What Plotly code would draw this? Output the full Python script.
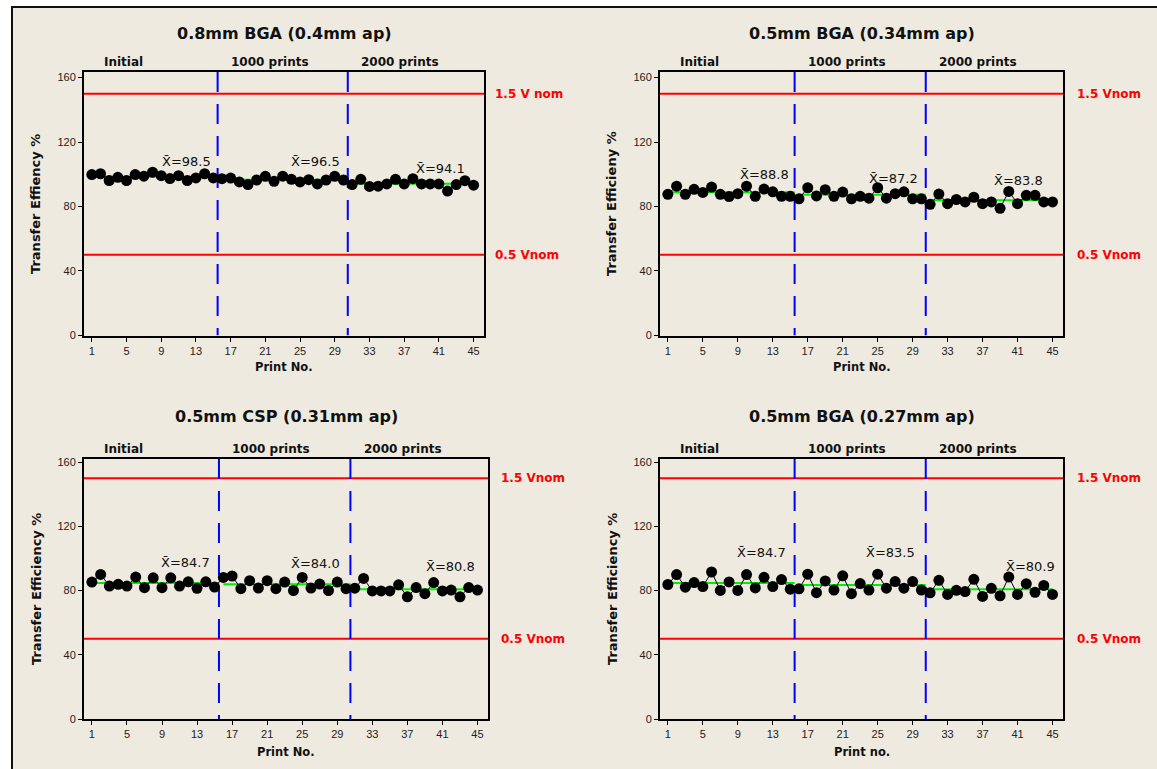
import plotly.graph_objects as go

# ---------------- data ----------------
PRINT_NO = list(range(1, 46))

TE_08BGA_04 = [99.8, 100.3, 96.1, 98.1, 96.1, 99.8, 98.8, 101.3, 99.1, 97.3, 99.1, 96.1, 97.7, 100.3, 97.7,
               97.2, 97.6, 95.2, 93.6, 96.4, 98.7, 95.6, 98.8, 96.8, 95.2, 96.6, 94.0, 96.4, 98.7, 96.4,
               93.6, 96.8, 92.4, 92.6, 94.0, 96.8, 94.0, 97.2, 94.0, 94.0, 94.0, 89.5, 93.6, 96.0, 93.2]
TE_05BGA_034 = [87.5, 92.6, 87.5, 90.6, 88.7, 92.0, 87.5, 86.1, 87.9, 92.6, 86.3, 90.8, 89.1, 86.3, 86.3,
                84.7, 91.6, 86.5, 90.4, 86.3, 88.9, 84.7, 86.3, 85.1, 91.6, 85.1, 87.9, 89.1, 84.7, 84.7,
                81.3, 87.7, 81.7, 84.3, 82.8, 85.7, 81.7, 82.8, 78.8, 89.3, 81.7, 86.9, 86.9, 82.8, 82.8]
TE_05CSP_031 = [85.3, 90.1, 82.8, 83.9, 82.8, 88.4, 81.8, 88.0, 81.8, 88.0, 82.8, 85.5, 81.4, 85.5, 82.2,
                88.2, 89.1, 81.2, 86.2, 81.6, 86.2, 81.2, 85.3, 80.0, 88.2, 81.6, 84.1, 80.0, 85.3, 81.2,
                81.5, 87.6, 79.8, 79.8, 79.8, 83.6, 76.1, 81.9, 78.1, 85.0, 79.8, 80.3, 76.1, 81.9, 80.3]
TE_05BGA_027 = [83.8, 90.0, 82.1, 85.0, 82.5, 91.6, 80.1, 85.4, 80.1, 90.0, 81.7, 88.3, 82.5, 86.9, 80.9,
                81.1, 90.2, 78.7, 86.0, 80.3, 89.2, 78.1, 84.4, 80.3, 90.2, 81.5, 85.6, 81.5, 85.6, 80.3,
                78.6, 86.4, 77.6, 80.2, 79.4, 87.0, 76.4, 81.4, 76.8, 88.4, 77.6, 84.3, 78.9, 83.2, 77.6]

MEANS_08BGA_04 = [98.5, 96.5, 94.1]
MEANS_05BGA_034 = [88.8, 87.2, 83.8]
MEANS_05CSP_031 = [84.7, 84.0, 80.8]
MEANS_05BGA_027 = [84.7, 83.5, 80.9]

SEGMENTS = [(1, 15), (16, 30), (31, 45)]
SECTION_BREAKS = [15.5, 30.5]
SECTION_NAMES = ["Initial", "1000 prints", "2000 prints"]
LIMITS = [150, 50]
Y_TICKS = [0, 40, 80, 120, 160]
X_TICKS = list(range(1, 46, 4))

# ---------------- layout config ----------------
W, H = 1157, 769
BEIGE = "#EEEAE0"


def px(x):
    return x / W


def py(y):
    return 1 - y / H


panels = [
    dict(vals=TE_08BGA_04, means=MEANS_08BGA_04, title="0.8mm BGA (0.4mm ap)",
         ytitle="Transfer Effiency %", xtitle="Print No.", lims=["1.5 V nom", "0.5 Vnom"],
         box=(84, 72, 484, 336), title_y=33, xt_dy=31, yr=[-0.5, 163.5],
         mean_pos=[(11.9, 108), (26.8, 108), (41.2, 103.7)], lab_dx=9),
    dict(vals=TE_05BGA_034, means=MEANS_05BGA_034, title="0.5mm BGA (0.34mm ap)",
         ytitle="Transfer Efficieny %", xtitle="Print No.", lims=["1.5 Vnom", "0.5 Vnom"],
         box=(660, 72, 1063, 336), title_y=33, xt_dy=31, yr=[-0.5, 163.5],
         mean_pos=[(12.1, 100), (26.8, 97.6), (41.1, 96.4)], lab_dx=12),
    dict(vals=TE_05CSP_031, means=MEANS_05CSP_031, title="0.5mm CSP (0.31mm ap)",
         ytitle="Transfer Efficiency %", xtitle="Print No.", lims=["1.5 Vnom", "0.5 Vnom"],
         box=(84, 459, 488, 719), title_y=416, xt_dy=33, yr=[0, 162],
         mean_pos=[(11.7, 97.8), (26.5, 97.1), (41.9, 95.3)], lab_dx=11),
    dict(vals=TE_05BGA_027, means=MEANS_05BGA_027, title="0.5mm BGA (0.27mm ap)",
         ytitle="Transfer Efficiency %", xtitle="Print no.", lims=["1.5 Vnom", "0.5 Vnom"],
         box=(660, 459, 1063, 719), title_y=416, xt_dy=33, yr=[0, 162],
         mean_pos=[(11.7, 104), (26.5, 104), (42.5, 95.3)], lab_dx=12),
]

TICK_FONT = dict(family="Liberation Sans, Arial, sans-serif", size=11, color="#222")
BOLD_FONT = "DejaVu Sans, Verdana, sans-serif"

fig = go.Figure()
annotations = []
shapes = [
    dict(type="rect", xref="paper", yref="paper", x0=px(12), x1=1.02, y0=-0.02, y1=py(7),
         fillcolor=BEIGE, line=dict(color="#111", width=2), layer="below")
]
layout_axes = {}

for i, p in enumerate(panels):
    n = "" if i == 0 else str(i + 1)
    xa, ya = "x" + n, "y" + n
    x0, y0, x1, y1 = p["box"]
    layout_axes["xaxis" + n] = dict(
        domain=[px(x0), px(x1)], anchor=ya, range=[0.1, 46.2], tickvals=X_TICKS,
        showline=True, mirror=True, linecolor="black", linewidth=2, ticks="outside",
        ticklen=4, tickcolor="black", tickwidth=1, showgrid=False, zeroline=False,
        tickfont=TICK_FONT, automargin=False)
    layout_axes["yaxis" + n] = dict(
        domain=[py(y1), py(y0)], anchor=xa, range=p["yr"], tickvals=Y_TICKS,
        showline=True, mirror=True, linecolor="black", linewidth=2, ticks="outside",
        ticklen=4, tickcolor="black", tickwidth=1, showgrid=False, zeroline=False,
        tickfont=TICK_FONT, automargin=False)

    # limit lines
    for lim in LIMITS:
        fig.add_trace(go.Scatter(x=[0.1, 46.2], y=[lim, lim], mode="lines",
                                 line=dict(color="#FF0000", width=2), xaxis=xa, yaxis=ya,
                                 showlegend=False, hoverinfo="skip"))
    # section breaks
    for b in SECTION_BREAKS:
        fig.add_trace(go.Scatter(x=[b, b], y=[p["yr"][1], 0], mode="lines",
                                 line=dict(color="#0000FF", width=2, dash="20px,12px"),
                                 xaxis=xa, yaxis=ya, showlegend=False, hoverinfo="skip"))
    # mean lines
    for k, (s, e) in enumerate(SEGMENTS):
        end = SECTION_BREAKS[k] if k < len(SECTION_BREAKS) else e
        fig.add_trace(go.Scatter(x=[s, end], y=[p["means"][k]] * 2, mode="lines",
                                 line=dict(color="#00EE00", width=2), xaxis=xa, yaxis=ya,
                                 showlegend=False, hoverinfo="skip"))
    # data
    fig.add_trace(go.Scatter(x=PRINT_NO, y=p["vals"], mode="lines+markers",
                             line=dict(color="black", width=1),
                             marker=dict(color="black", size=11),
                             xaxis=xa, yaxis=ya, showlegend=False))

    cx = (x0 + x1) / 2
    # title
    annotations.append(dict(text="<b>%s</b>" % p["title"], xref="paper", yref="paper",
                            x=px(cx), y=py(p["title_y"]), showarrow=False,
                            xanchor="center", yanchor="middle",
                            font=dict(family="DejaVu Sans, sans-serif", size=16, color="#111")))
    # section headers
    for name, hx in zip(SECTION_NAMES, [2.2, 16.8, 31.8]):
        annotations.append(dict(text="<b>%s</b>" % name, xref=xa, yref="paper", x=hx,
                                y=py(y0 - 1), showarrow=False, xanchor="left", yanchor="bottom",
                                font=dict(family=BOLD_FONT, size=12, color="#111")))
    # limit labels
    for lim, lab in zip(LIMITS, p["lims"]):
        annotations.append(dict(text="<b>%s</b>" % lab, xref="paper", yref=ya,
                                x=px(x1 + p["lab_dx"]), y=lim, showarrow=False,
                                xanchor="left", yanchor="middle",
                                font=dict(family=BOLD_FONT, size=12, color="#FF0000")))
    # mean labels
    for (mx, my), mv in zip(p["mean_pos"], p["means"]):
        annotations.append(dict(text="X\u0304=%.1f" % mv, xref=xa, yref=ya, x=mx, y=my,
                                showarrow=False, xanchor="center", yanchor="middle",
                                font=dict(family="DejaVu Sans, sans-serif", size=13,
                                          color="#111")))
    # axis titles
    annotations.append(dict(text="<b>%s</b>" % p["xtitle"], xref="paper", yref="paper",
                            x=px(cx), y=py(y1 + p["xt_dy"]), showarrow=False, xanchor="center",
                            yanchor="middle",
                            font=dict(family=BOLD_FONT, size=11.5, color="#111")))
    annotations.append(dict(text="<b>%s</b>" % p["ytitle"], xref="paper", yref="paper",
                            x=px(x0 - 48), y=py((y0 + y1) / 2), showarrow=False,
                            xanchor="center", yanchor="middle", textangle=-90,
                            font=dict(family=BOLD_FONT, size=13, color="#111")))

fig.update_layout(
    width=W, height=H, margin=dict(l=0, r=0, t=0, b=0, pad=0, autoexpand=False),
    paper_bgcolor="white", plot_bgcolor="white",
    annotations=annotations, shapes=shapes, showlegend=False,
    **layout_axes)

fig.write_html(
    "out.html",
    config={"displayModeBar": False},
    post_script="document.body.style.margin='0';document.body.style.overflow='hidden';")
